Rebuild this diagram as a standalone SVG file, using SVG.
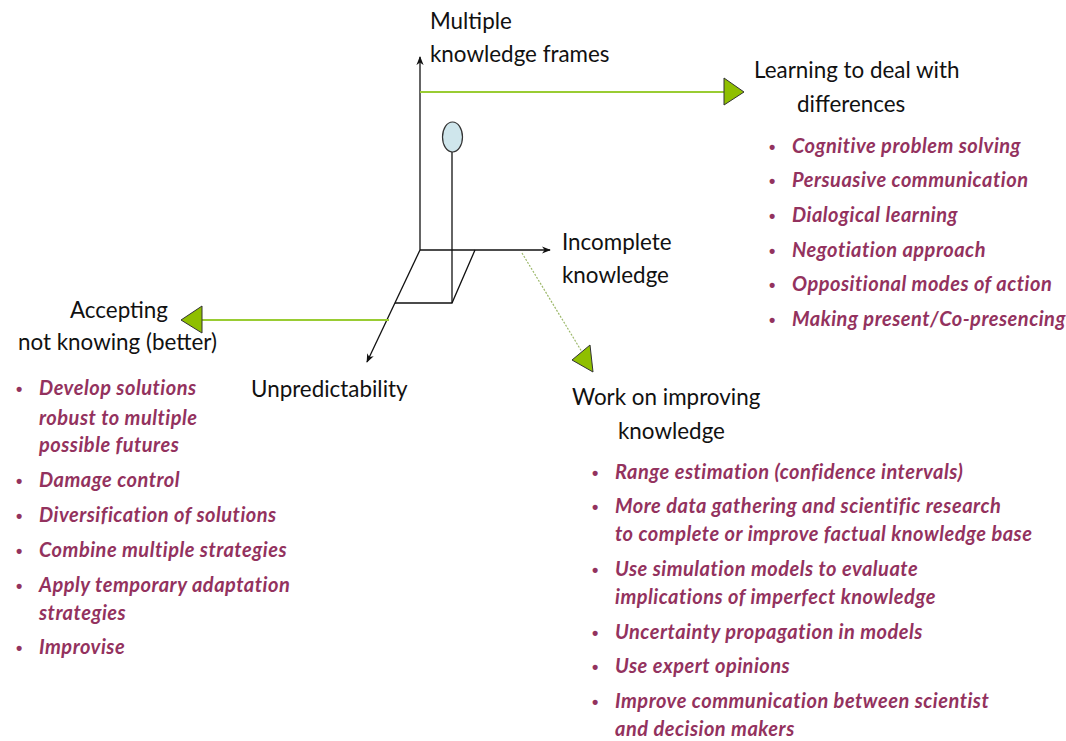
<svg xmlns="http://www.w3.org/2000/svg" width="1066" height="741" viewBox="0 0 1066 741">
<style>
.lbl{font-family:Lato,"Open Sans","Liberation Sans",sans-serif;font-size:22.4px;fill:#111}
.it{font-family:Lato,"Open Sans","Liberation Sans",sans-serif;font-size:20px;font-style:italic;font-weight:bold;letter-spacing:0.5px;fill:#93325e}
.bu{font-family:"Liberation Sans",sans-serif;font-size:18px;font-weight:bold;fill:#93325e}
.ax{stroke:#111;stroke-width:1.3;fill:none}
.gl{stroke:#99cc33;stroke-width:2;fill:none}
.tri{fill:#8fbf00;stroke:#333;stroke-width:1}
</style>
<defs>
<marker id="ah" viewBox="0 0 10 10" refX="9" refY="5" markerWidth="9" markerHeight="9" orient="auto" markerUnits="userSpaceOnUse">
<path d="M0,1 L10,5 L0,9 L3,5 Z" fill="#111"/>
</marker>
</defs>
<rect width="1066" height="741" fill="#fff"/>
<g id="connectors">
<line class="ax" x1="420" y1="250" x2="420" y2="57" marker-end="url(#ah)"/>
<line class="ax" x1="420" y1="250" x2="550" y2="250" marker-end="url(#ah)"/>
<line class="ax" x1="420" y1="250" x2="367" y2="362" marker-end="url(#ah)"/>
<polyline class="ax" points="475,250 452,303 395,303"/>
<line class="ax" x1="452" y1="303" x2="452" y2="152"/>
<line class="gl" x1="420" y1="92" x2="726" y2="92"/>
<polygon class="tri" points="724,78 744,92 724,105"/>
<line class="gl" x1="389" y1="320" x2="200" y2="320"/>
<polygon class="tri" points="202,306 181,320 202,333"/>
<line x1="522" y1="253" x2="582" y2="352" stroke="#9cb86a" stroke-width="1.2" stroke-dasharray="2,1.5"/>
<polygon class="tri" points="572,360 590,345 593,372"/>
</g>
<g id="point">
<ellipse cx="452.5" cy="137" rx="10" ry="15" fill="#cfe6ec" stroke="#333" stroke-width="1.2"/>
</g>
<g id="axis-labels">
<text class="lbl" x="430" y="29">Multiple</text>
<text class="lbl" x="430" y="62">knowledge frames</text>
<text class="lbl" x="562" y="250">Incomplete</text>
<text class="lbl" x="562" y="283">knowledge</text>
<text class="lbl" x="251" y="397">Unpredictability</text>
</g>
<g id="differences">
<text class="lbl" x="754" y="78">Learning to deal with</text>
<text class="lbl" x="797" y="112">differences</text>
<text class="bu" x="769" y="153">•</text><text class="it" x="792" y="153">Cognitive problem solving</text>
<text class="bu" x="769" y="187">•</text><text class="it" x="792" y="187">Persuasive communication</text>
<text class="bu" x="769" y="222">•</text><text class="it" x="792" y="222">Dialogical learning</text>
<text class="bu" x="769" y="257">•</text><text class="it" x="792" y="257">Negotiation approach</text>
<text class="bu" x="769" y="291">•</text><text class="it" x="792" y="291">Oppositional modes of action</text>
<text class="bu" x="769" y="326">•</text><text class="it" x="792" y="326">Making present/Co-presencing</text>
</g>
<g id="accepting">
<text class="lbl" x="70" y="318">Accepting</text>
<text class="lbl" x="18" y="350">not knowing (better)</text>
<text class="bu" x="16" y="395">•</text><text class="it" x="39" y="395">Develop solutions</text>
<text class="it" x="39" y="425">robust to multiple</text>
<text class="it" x="39" y="452">possible futures</text>
<text class="bu" x="16" y="487">•</text><text class="it" x="39" y="487">Damage control</text>
<text class="bu" x="16" y="522">•</text><text class="it" x="39" y="522">Diversification of solutions</text>
<text class="bu" x="16" y="557">•</text><text class="it" x="39" y="557">Combine multiple strategies</text>
<text class="bu" x="16" y="592">•</text><text class="it" x="39" y="592">Apply temporary adaptation</text>
<text class="it" x="39" y="620">strategies</text>
<text class="bu" x="16" y="654">•</text><text class="it" x="39" y="654">Improvise</text>
</g>
<g id="improving">
<text class="lbl" x="572" y="405">Work on improving</text>
<text class="lbl" x="618" y="439">knowledge</text>
<text class="bu" x="592" y="479">•</text><text class="it" x="615" y="479">Range estimation (confidence intervals)</text>
<text class="bu" x="592" y="513">•</text><text class="it" x="615" y="513">More data gathering and scientific research</text>
<text class="it" x="615" y="541">to complete or improve factual knowledge base</text>
<text class="bu" x="592" y="576">•</text><text class="it" x="615" y="576">Use simulation models to evaluate</text>
<text class="it" x="615" y="604">implications of imperfect knowledge</text>
<text class="bu" x="592" y="639">•</text><text class="it" x="615" y="639">Uncertainty propagation in models</text>
<text class="bu" x="592" y="673">•</text><text class="it" x="615" y="673">Use expert opinions</text>
<text class="bu" x="592" y="708">•</text><text class="it" x="615" y="708">Improve communication between scientist</text>
<text class="it" x="615" y="736">and decision makers</text>
</g>
</svg>
